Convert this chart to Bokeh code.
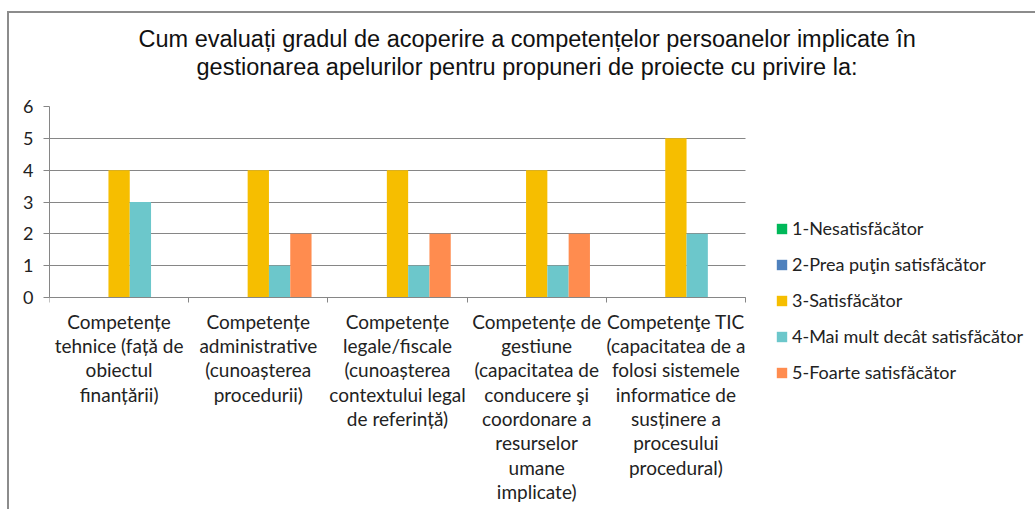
from bokeh.plotting import figure
from bokeh.models import (ColumnDataSource, FixedTicker, Legend, LegendItem, Title, LinearAxis)
from bokeh.transform import dodge
from bokeh.embed import file_html
from bokeh.resources import INLINE

categories = [
    "Competențe\ntehnice (față de\nobiectul\nfinanțării)",
    "Competențe\nadministrative\n(cunoașterea\nprocedurii)",
    "Competențe\nlegale/fiscale\n(cunoașterea\ncontextului legal\nde referință)",
    "Competențe de\ngestiune\n(capacitatea de\nconducere şi\ncoordonare a\nresurselor\numane\nimplicate)",
    "Competenţe TIC\n(capacitatea de a\nfolosi sistemele\ninformatice de\nsusținere a\nprocesului\nprocedural)",
]
series_names = [
    "1-Nesatisfăcător",
    "2-Prea puţin satisfăcător",
    "3-Satisfăcător",
    "4-Mai mult decât satisfăcător",
    "5-Foarte satisfăcător",
]
s1_nesatisfacator = [0, 0, 0, 0, 0]
s2_prea_putin = [0, 0, 0, 0, 0]
s3_satisfacator = [4, 4, 4, 4, 5]
s4_mai_mult = [3, 1, 1, 1, 2]
s5_foarte = [0, 2, 2, 2, 0]
series_values = [s1_nesatisfacator, s2_prea_putin, s3_satisfacator, s4_mai_mult, s5_foarte]
colors = ["#00B859", "#4F81BD", "#F6BE00", "#6CC7CB", "#FF8C4F"]
y_ticks = [0, 1, 2, 3, 4, 5, 6]
y_max = 6

title_line1 = "Cum evaluați gradul de acoperire a competențelor persoanelor implicate în"
title_line2 = "gestionarea apelurilor pentru propuneri de proiecte cu privire la:"

GRAY = "#868686"
TXT = "#222222"
LABEL_FONT = "Lato"

# layout (pixels)
CANVAS_W, CANVAS_H = 1026, 496
LEFT, TOP = 40, 93
PLOT_W, PLOT_H = 696, 191          # width/height of the category area (0..5, 0..6)
FRAME_W, FRAME_H = CANVAS_W - LEFT, CANVAS_H - TOP

n = len(categories)
x_end = n * FRAME_W / PLOT_W
y_start = y_max - FRAME_H * y_max / PLOT_H

p = figure(
    output_backend="svg", toolbar_location=None,
    frame_width=FRAME_W, frame_height=FRAME_H,
    min_border_left=LEFT, min_border_right=0, min_border_top=TOP, min_border_bottom=0,
    x_range=(0, x_end), y_range=(y_start, y_max),
    x_axis_location=None, y_axis_location=None, title=None,
)
p.styles = {"position": "relative", "left": "7px", "top": "11px",
            "border-left": "2px solid #8c8c8c", "border-top": "2px solid #8c8c8c"}
p.outline_line_color = None
p.background_fill_color = "white"
p.border_fill_color = "white"

centers = [i + 0.5 for i in range(n)]
bw = 0.153
renderers = []
for k, (name, vals, col) in enumerate(zip(series_names, series_values, colors)):
    src = ColumnDataSource(dict(x=centers, top=vals))
    r = p.vbar(x=dodge("x", (k - 2) * bw, range=p.x_range), top="top", bottom=0,
               width=bw, source=src, fill_color=col, line_color=None)
    renderers.append((name, r))

# x axis fixed at y=0
xa = LinearAxis(fixed_location=0, bounds=(0, n))
xa.ticker = FixedTicker(ticks=centers, minor_ticks=list(range(n + 1)))
xa.major_label_overrides = {c: lab for c, lab in zip(centers, categories)}
xa.major_tick_line_color = None
xa.major_tick_out = 0
xa.major_tick_in = 0
xa.minor_tick_line_color = GRAY
xa.minor_tick_out = 5
xa.minor_tick_in = 0
xa.axis_line_color = GRAY
xa.major_label_text_font = LABEL_FONT
xa.major_label_text_font_size = "19px"
xa.major_label_text_color = TXT
xa.major_label_text_line_height = 1.06
xa.major_label_standoff = 7
p.add_layout(xa, "below")

ya = LinearAxis(bounds=(0, y_max))
ya.ticker = FixedTicker(ticks=y_ticks)
ya.axis_line_color = GRAY
ya.major_tick_line_color = GRAY
ya.major_tick_out = 6
ya.major_tick_in = 0
ya.minor_tick_line_color = None
ya.major_label_text_font = LABEL_FONT
ya.major_label_text_font_size = "18px"
ya.major_label_text_color = TXT
ya.major_label_standoff = 10
p.add_layout(ya, "left")

p.xgrid.grid_line_color = None
p.ygrid.ticker = FixedTicker(ticks=y_ticks)
p.ygrid.grid_line_color = GRAY
p.ygrid.grid_line_width = 1
p.ygrid.bounds = (0, y_max)
p.ygrid.cross_bounds = (0, n)

legend = Legend(
    items=[LegendItem(label=nm, renderers=[r]) for nm, r in renderers],
    location=(726, 126), orientation="vertical",
    glyph_width=13, glyph_height=13, label_height=22, spacing=14,
    label_standoff=4, padding=0, margin=0, border_line_color=None,
    background_fill_alpha=0, label_text_font=LABEL_FONT,
    label_text_font_size="18px", label_text_color=TXT,
)
p.add_layout(legend, "center")

# titles (first added is closest to the frame)
spacer = Title(text=" ", text_font_size="10px", standoff=14)
t2 = Title(text=title_line2, align="left", offset=147, text_font="Liberation Sans",
           text_font_size="23.5px", text_font_style="normal", text_color="#111111", standoff=0)
t1 = Title(text=title_line1, align="left", offset=89, text_font="Liberation Sans",
           text_font_size="23.5px", text_font_style="normal", text_color="#111111", standoff=0)
p.add_layout(spacer, "above")
p.add_layout(t2, "above")
p.add_layout(t1, "above")

open("out.html", "w").write(file_html(p, INLINE))
